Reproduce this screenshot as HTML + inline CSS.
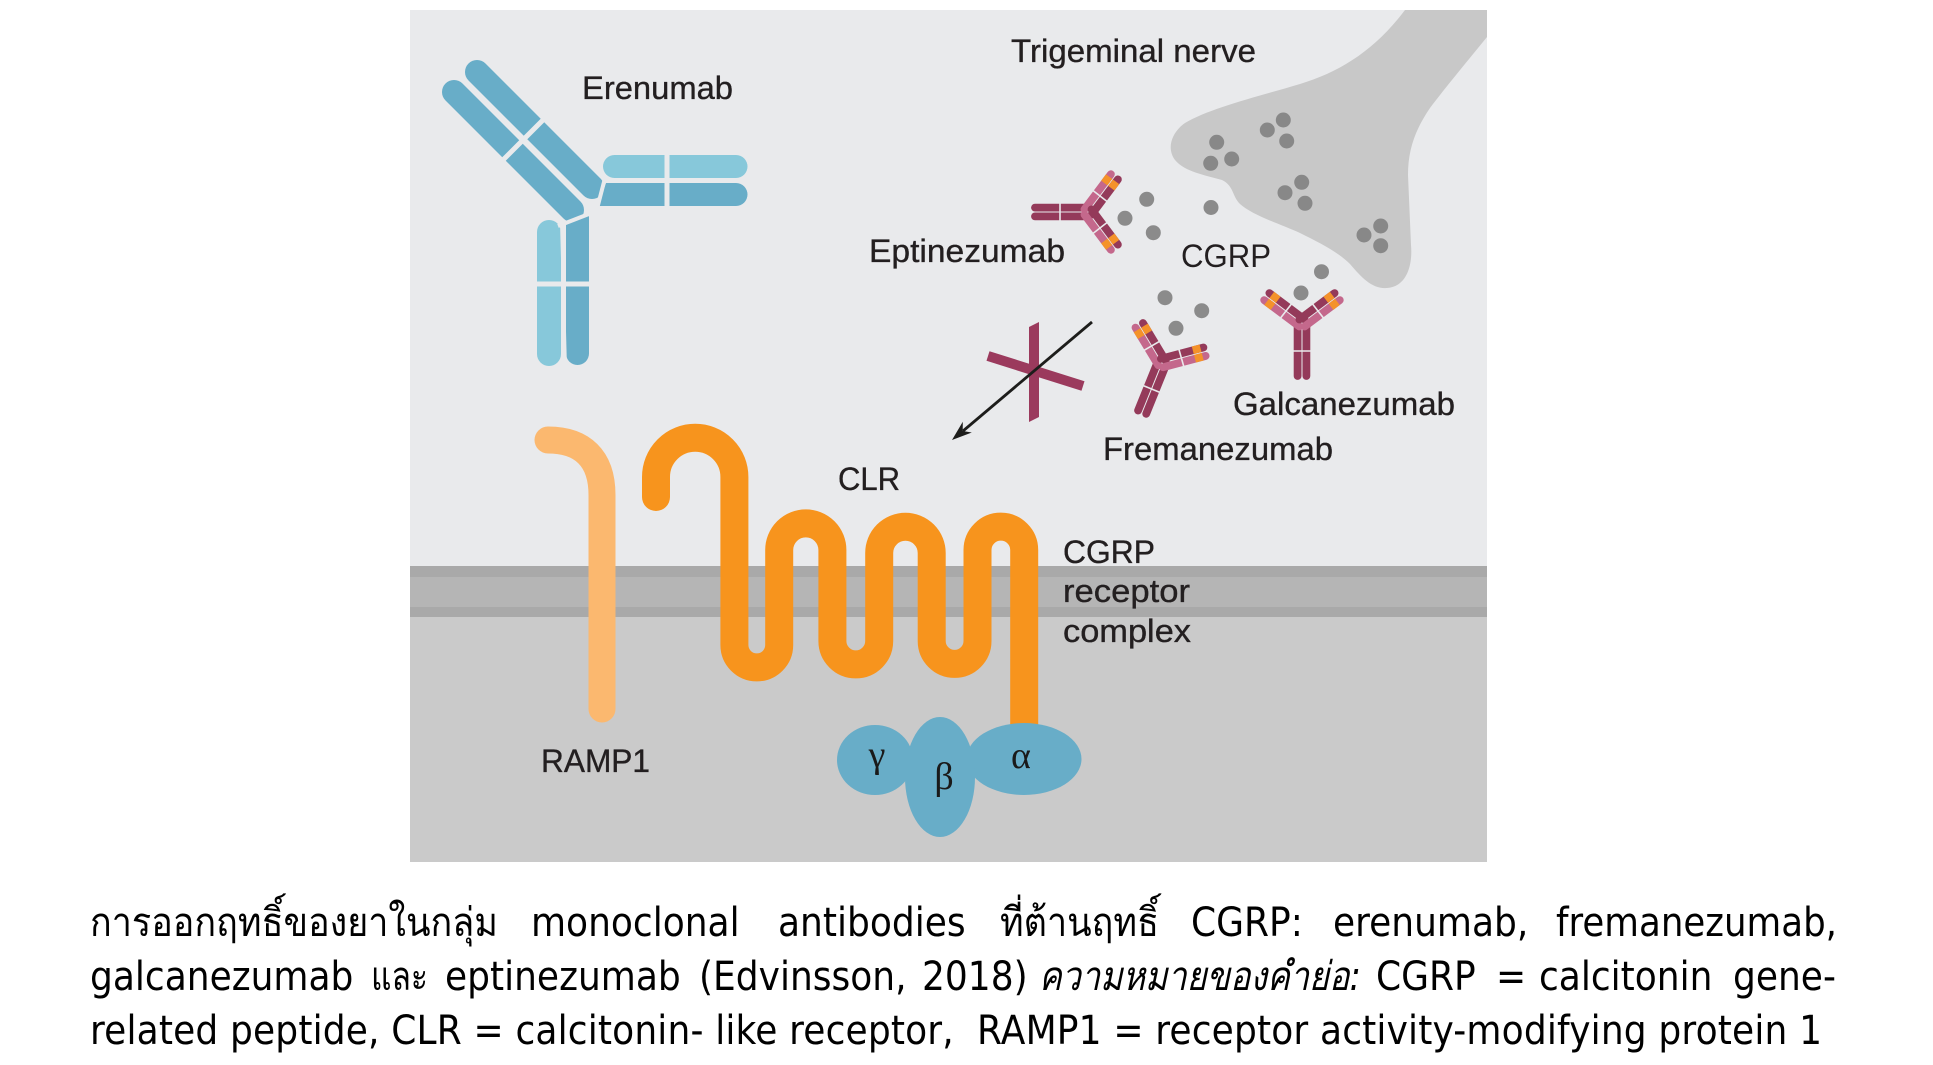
<!DOCTYPE html>
<html>
<head>
<meta charset="utf-8">
<style>
  html,body{margin:0;padding:0;background:#fff;}
  svg{display:block;}
</style>
</head>
<body>
<svg width="1933" height="1065" viewBox="0 0 1933 1065" xmlns="http://www.w3.org/2000/svg">
  <defs>
    <g id="ab" fill="none">
      <g stroke-linecap="round" stroke-width="7.8">
        <line x1="-4.4" y1="2" x2="-4.4" y2="53" stroke="#943a5a"/>
        <line x1="4.4" y1="2" x2="4.4" y2="53" stroke="#943a5a"/>
        <line x1="2.6" y1="-3.5" x2="-32.6" y2="-29.9" stroke="#943a5a"/>
        <line x1="-2.6" y1="3.5" x2="-37.8" y2="-22.9" stroke="#c4688c"/>
        <line x1="-2.6" y1="-3.5" x2="32.6" y2="-29.9" stroke="#943a5a"/>
        <line x1="2.6" y1="3.5" x2="37.8" y2="-22.9" stroke="#c4688c"/>
      </g>
      <g stroke="#f4922a" stroke-width="7.8" stroke-linecap="butt">
        <line x1="-23.8" y1="-23.3" x2="-30.2" y2="-28.1"/>
        <line x1="-29" y1="-16.3" x2="-35.4" y2="-21.1"/>
        <line x1="23.8" y1="-23.3" x2="30.2" y2="-28.1"/>
        <line x1="29" y1="-16.3" x2="35.4" y2="-21.1"/>
      </g>
      <g stroke="#e9eaec" stroke-width="1.6">
        <line x1="-10" y1="28" x2="10" y2="28"/>
        <line x1="-23" y1="-3" x2="-9" y2="-21"/>
        <line x1="23" y1="-3" x2="9" y2="-21"/>
      </g>
    </g>
  </defs>

  <rect width="1933" height="1065" fill="#ffffff"/>
  <!-- figure background -->
  <rect x="410" y="10" width="1077" height="852" fill="#e9eaec"/>
  <rect x="410" y="566" width="1077" height="296" fill="#cacaca"/>
  <rect x="410" y="566" width="1077" height="51" fill="#a9a9a9"/>
  <rect x="410" y="577" width="1077" height="30" fill="#b5b5b5"/>

  <!-- trigeminal nerve -->
  <path d="M 1405 10 L 1487 10 L 1487 37
           C 1470 58, 1445 88, 1430 108
           C 1415 130, 1408 150, 1408 175
           L 1411 245
           C 1413 268, 1405 287, 1387 288
           C 1372 289, 1362 278, 1350 264
           C 1338 252, 1320 243, 1300 233
           C 1280 224, 1252 215, 1240 204
           C 1232 196, 1234 186, 1222 180
           C 1205 175, 1185 172, 1175 160
           C 1166 148, 1172 132, 1185 123
           C 1210 108, 1260 96, 1300 84
           C 1340 72, 1375 50, 1405 10 Z" fill="#c8c8c8"/>

  <!-- CGRP dots -->
  <g fill="#888888">
    <circle cx="1216.7" cy="142.3" r="7.5"/>
    <circle cx="1210.7" cy="163.3" r="7.5"/>
    <circle cx="1231.7" cy="159" r="7.5"/>
    <circle cx="1283.3" cy="120" r="7.5"/>
    <circle cx="1267.3" cy="130" r="7.5"/>
    <circle cx="1286.7" cy="141" r="7.5"/>
    <circle cx="1301.7" cy="182.3" r="7.5"/>
    <circle cx="1285" cy="192.7" r="7.5"/>
    <circle cx="1305" cy="203.3" r="7.5"/>
    <circle cx="1380.7" cy="226" r="7.5"/>
    <circle cx="1364" cy="235" r="7.5"/>
    <circle cx="1380.7" cy="245.7" r="7.5"/>
  </g>
  <g fill="#8b8b8b">
    <circle cx="1146.7" cy="199.3" r="7.5"/>
    <circle cx="1125" cy="218.3" r="7.5"/>
    <circle cx="1153.3" cy="232.7" r="7.5"/>
    <circle cx="1211" cy="207.5" r="7.5"/>
    <circle cx="1165" cy="297.7" r="7.5"/>
    <circle cx="1201.7" cy="310.7" r="7.5"/>
    <circle cx="1176" cy="328.3" r="7.5"/>
    <circle cx="1321.5" cy="271.7" r="7.5"/>
    <circle cx="1301" cy="293" r="7.5"/>
  </g>

  <!-- Erenumab antibody -->
  <g fill="none" stroke-linecap="round">
    <line x1="454" y1="92" x2="572" y2="210" stroke="#68adc8" stroke-width="24"/>
    <line x1="477" y1="72" x2="592" y2="187" stroke="#68adc8" stroke-width="24"/>
  </g>
  <path d="M 614.5 155 L 736 155 A 11.5 11.5 0 0 1 736 178 L 614.5 178 A 11.5 11.5 0 0 1 614.5 155 Z" fill="#87c8da"/>
  <path d="M 606 183 L 736 183 A 11.5 11.5 0 0 1 736 206 L 598 206 Z" fill="#68adc8"/>
  <rect x="537" y="220" width="24" height="146" rx="12" ry="12" fill="#87c8da"/>
  <path d="M 566 223 L 589 216 L 589 353.5 A 11.5 11.5 0 0 1 566 353.5 Z" fill="#68adc8"/>
  <g stroke="#e9eaec" fill="none">
    <line x1="503" y1="160" x2="550" y2="113" stroke-width="5"/>
    <line x1="667" y1="150" x2="667" y2="212" stroke-width="5"/>
    <line x1="533" y1="284" x2="593" y2="284" stroke-width="5"/>
    <line x1="558" y1="226" x2="594" y2="212" stroke-width="4"/>
    <line x1="597" y1="209" x2="605" y2="178" stroke-width="4"/>
    <line x1="561.5" y1="222" x2="565.5" y2="368" stroke-width="3"/>
  </g>

  <!-- small antibodies -->
  <use href="#ab" transform="translate(1302,323)"/>
  <use href="#ab" transform="translate(1162,363) rotate(22)"/>
  <use href="#ab" transform="translate(1088,212) rotate(90)"/>

  <!-- blocked X -->
  <polygon points="1029,327 1039,322 1039,417 1029,422" fill="#9b3a5d"/>
  <line x1="988" y1="356" x2="1083" y2="386" stroke="#9b3a5d" stroke-width="10"/>

  <!-- arrow -->
  <line x1="1092" y1="322" x2="963" y2="431" stroke="#1d1d1b" stroke-width="2.8"/>
  <polygon points="952,440 971.8,432.5 962.7,431 962.8,421.7" fill="#1d1d1b"/>

  <!-- RAMP1 -->
  <path d="M 548 440 C 582 440, 602 458, 602 495 L 602 709" fill="none" stroke="#fbb86f" stroke-width="27" stroke-linecap="round"/>

  <!-- CLR -->
  <path d="M 656 497 L 656 477 A 39.2 39.2 0 0 1 734.4 477 L 734.4 645 A 22.4 22.4 0 0 0 779.2 645 L 779.2 550 A 26.6 26.6 0 0 1 832.4 550 L 832.4 641 A 23.4 23.4 0 0 0 879.2 641 L 879.2 553 A 26.25 26.25 0 0 1 931.7 553 L 931.7 641 A 22.9 22.9 0 0 0 977.5 641 L 977.5 550 A 23.35 23.35 0 0 1 1024.2 550 L 1024.2 740" fill="none" stroke="#f7941d" stroke-width="28" stroke-linecap="round" stroke-linejoin="round"/>

  <!-- G protein subunits -->
  <g fill="#68adc8">
    <ellipse cx="875" cy="760" rx="38" ry="35"/>
    <ellipse cx="1024" cy="759" rx="57.5" ry="36"/>
    <ellipse cx="940" cy="777" rx="35" ry="60"/>
  </g>
  <g font-family="'Liberation Serif', serif" font-size="38" fill="#1a1a1a" text-anchor="middle">
    <text x="877" y="767">γ</text>
    <text x="944" y="789">β</text>
    <text x="1021" y="768">α</text>
  </g>

  <!-- labels -->
  <g font-family="'Liberation Sans', sans-serif" font-size="32" fill="#231f20" stroke="#231f20" stroke-width="0.35">
    <text x="582" y="99" textLength="151" lengthAdjust="spacingAndGlyphs">Erenumab</text>
    <text x="1011" y="62" textLength="245" lengthAdjust="spacingAndGlyphs">Trigeminal nerve</text>
    <text x="869" y="262" textLength="196" lengthAdjust="spacingAndGlyphs">Eptinezumab</text>
    <text x="1233" y="415" textLength="222" lengthAdjust="spacingAndGlyphs">Galcanezumab</text>
    <text x="1103" y="460" textLength="230" lengthAdjust="spacingAndGlyphs">Fremanezumab</text>
    <text x="838" y="490" textLength="62" lengthAdjust="spacingAndGlyphs">CLR</text>
    <text x="1063" y="563" textLength="92" lengthAdjust="spacingAndGlyphs">CGRP</text>
    <text x="1063" y="602" textLength="127" lengthAdjust="spacingAndGlyphs">receptor</text>
    <text x="1063" y="642" textLength="128" lengthAdjust="spacingAndGlyphs">complex</text>
    <text x="541" y="772" textLength="109" lengthAdjust="spacingAndGlyphs">RAMP1</text>
  </g>
  <text x="1181" y="267" font-family="'Liberation Sans', sans-serif" font-size="32" fill="#231f20" textLength="90" lengthAdjust="spacingAndGlyphs">CGRP</text>

  <!-- caption -->
  <g font-family="'DejaVu Sans', 'Liberation Sans', 'Noto Sans CJK SC', sans-serif" font-size="36" fill="#000">
    <g transform="translate(0,936) scale(1,1.12)">
      <text x="90" y="0" textLength="408" lengthAdjust="spacingAndGlyphs">การออกฤทธิ์ของยาในกลุ่ม</text>
      <text x="531" y="0">monoclonal</text>
      <text x="778" y="0">antibodies</text>
      <text x="1000" y="0" textLength="159" lengthAdjust="spacingAndGlyphs">ที่ต้านฤทธิ์</text>
      <text x="1191" y="0">CGRP:</text>
      <text x="1333" y="0">erenumab,</text>
      <text x="1556" y="0" textLength="281" lengthAdjust="spacingAndGlyphs">fremanezumab,</text>
    </g>
    <g transform="translate(0,990) scale(1,1.12)">
      <text x="90" y="0">galcanezumab</text>
      <text x="371" y="0" textLength="57" lengthAdjust="spacingAndGlyphs">และ</text>
      <text x="445" y="0">eptinezumab</text>
      <text x="699" y="0">(Edvinsson,</text>
      <text x="922" y="0">2018)</text>
      <text x="1039" y="0" font-style="italic" textLength="322" lengthAdjust="spacingAndGlyphs">ความหมายของคำย่อ:</text>
      <text x="1376" y="0">CGRP</text>
      <text x="1496" y="0">=</text>
      <text x="1539" y="0">calcitonin</text>
      <text x="1733" y="0">gene-</text>
    </g>
    <g transform="translate(0,1044) scale(1,1.12)">
      <text x="90" y="0" xml:space="preserve" textLength="1732" lengthAdjust="spacing">related peptide, CLR = calcitonin- like receptor,  RAMP1 = receptor activity-modifying protein 1</text>
    </g>
  </g>
</svg>
</body>
</html>
